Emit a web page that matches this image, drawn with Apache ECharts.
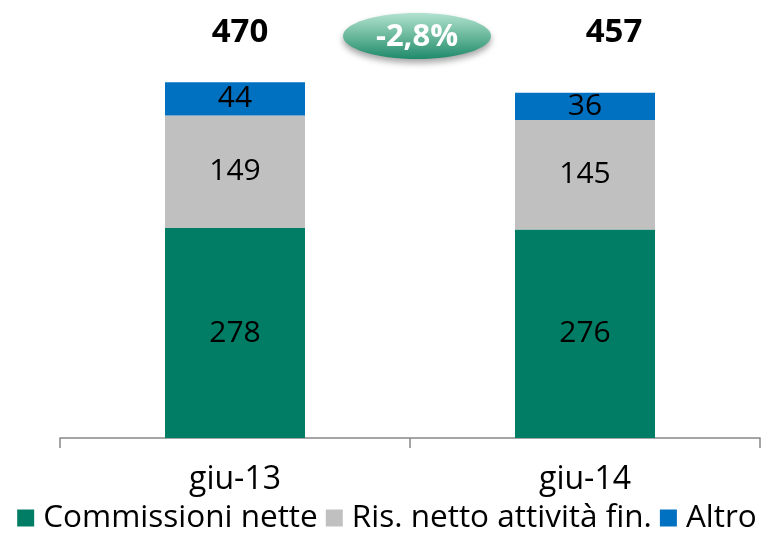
<!DOCTYPE html>
<html><head><meta charset="utf-8">
<script src="https://cdn.jsdelivr.net/npm/echarts@6/dist/echarts.min.js"></script>
<style>html,body{margin:0;padding:0;background:#fff}#c{width:774px;height:539px}</style>
</head><body><div id="c"></div>
<script>
var categories = ['giu-13', 'giu-14'];
var commissioni = [278, 276];
var risNetto = [149, 145];
var altro = [44, 36];
var totals = [470, 457];
var changeLabel = '-2,8%';
var seriesNames = ['Commissioni nette', 'Ris. netto attività fin.', 'Altro'];

var FONT = '"Open Sans", "DejaVu Sans", sans-serif';
var chart = echarts.init(document.getElementById('c'));
function lbl(){ return {show:true, position:'inside', color:'#000', fontSize:30, fontFamily:FONT}; }
chart.setOption({
  animation:false,
  grid:{left:60, right:14, top:15, bottom:101},
  legend:{bottom:0, left:'center', icon:'rect', itemWidth:17, itemHeight:17, itemGap:8,
    textStyle:{fontSize:31.5, fontFamily:FONT, color:'#000', padding:[0,0,0,4]},
    data:seriesNames},
  xAxis:{type:'category', data:categories,
    axisLine:{lineStyle:{color:'#888', width:1.5}},
    axisTick:{show:true, length:10, lineStyle:{color:'#888', width:1.5}},
    axisLabel:{fontSize:32, fontFamily:FONT, color:'#000', margin:26}},
  yAxis:{type:'value', min:0, max:560, show:false, splitLine:{show:false}},
  series:[
    {name:seriesNames[0], type:'bar', stack:'s', barWidth:'40%', data:commissioni,
      itemStyle:{color:'#007D64'}, label:lbl()},
    {name:seriesNames[1], type:'bar', stack:'s', data:risNetto,
      itemStyle:{color:'#C0C0C0'}, label:lbl()},
    {name:seriesNames[2], type:'bar', stack:'s', data:altro,
      itemStyle:{color:'#0070C0'}, label:lbl()},
    {type:'scatter', symbolSize:0, silent:true, itemStyle:{opacity:1},
      data:[{value:[0,537], label:{offset:[5,0]}}, {value:[1,537], label:{offset:[29,0]}}],
      label:{show:true, position:'inside', color:'#000', opacity:1, fontSize:33, fontWeight:'bold', fontFamily:FONT,
        formatter:function(p){return String(totals[p.dataIndex]);}}}
  ],
  graphic:[
    {type:'ellipse', shape:{cx:417, cy:36, rx:74, ry:23},
      style:{fill:new echarts.graphic.LinearGradient(0,0,0,1,[{offset:0,color:'#b2e2d0'},{offset:0.5,color:'#6ab89c'},{offset:1,color:'#1f8a6a'}]),
        shadowBlur:6, shadowOffsetY:4, shadowColor:'rgba(0,0,0,0.35)'}},
    {type:'text', x:417, y:37, style:{text:changeLabel, fill:'#fff', fontSize:31, fontWeight:'bold', fontFamily:FONT, align:'center', verticalAlign:'middle'}}
  ]
});
</script></body></html>
